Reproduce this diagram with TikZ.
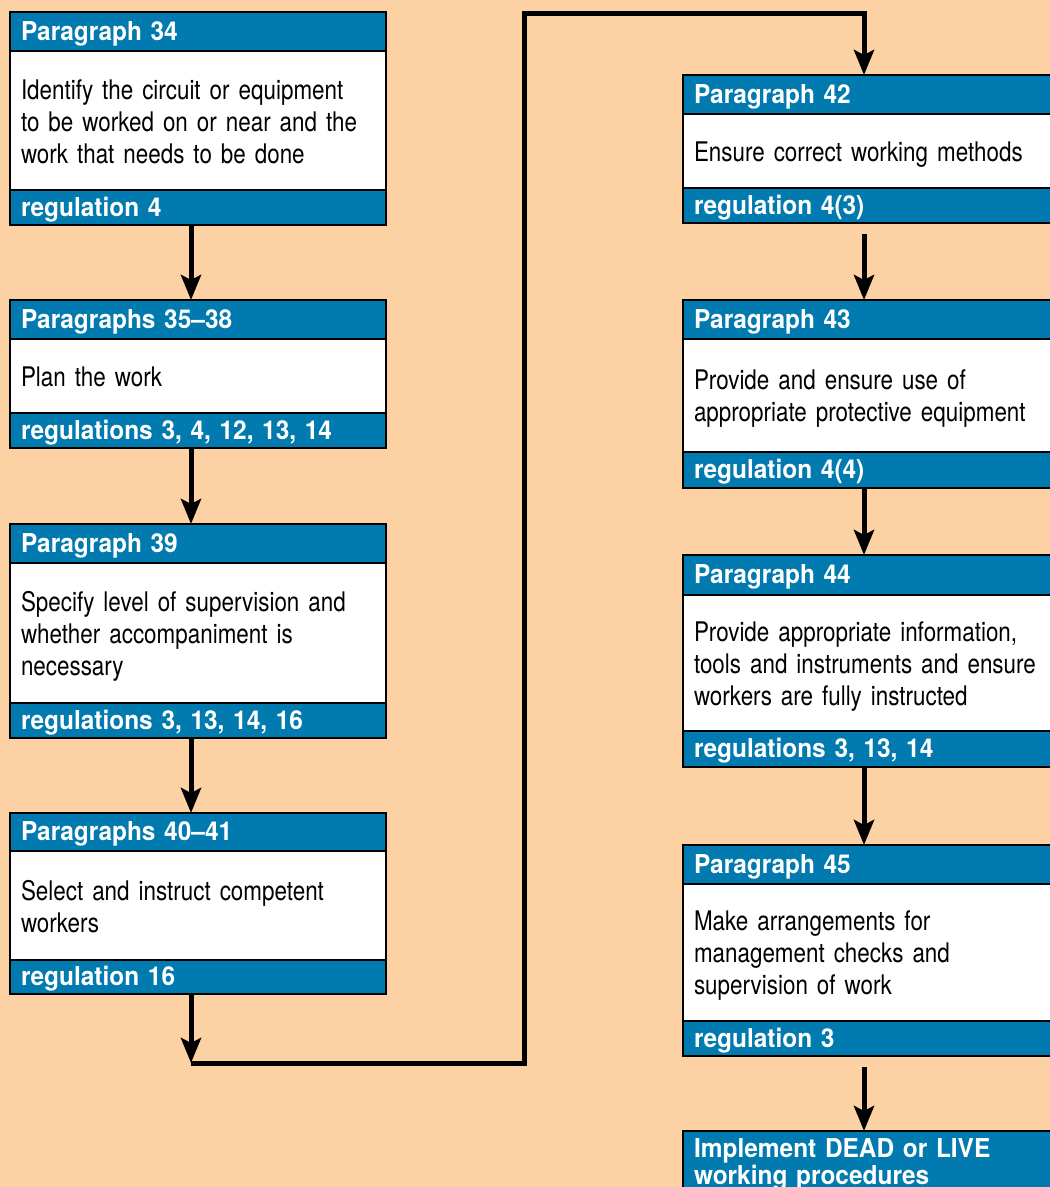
\documentclass[tikz,border=0pt]{standalone}
\usepackage{fontspec}
\setmainfont{TeX Gyre Heros}
\newfontfamily\boxheadfont{TeX Gyre Heros}[FakeStretch=0.94]
\newfontfamily\boxtextfont{TeX Gyre Heros}[FakeStretch=0.83]
\usetikzlibrary{arrows.meta,positioning}

\definecolor{peach}{RGB}{252,209,163}
\definecolor{hseblue}{RGB}{0,122,175}

\tikzset{every picture/.style={line width=0.75pt}}
\tikzset{
  band/.style={draw=black, line width=2.4pt, fill=hseblue, text=white, outer sep=0pt,
    font=\boxheadfont\bfseries\fontsize{26}{24}\selectfont, align=left, text width=354pt,
    inner xsep=11pt, inner ysep=0pt, minimum height=#1, text height=20pt, text depth=3pt},
  band/.default=39pt,
  panel/.style={draw=black, line width=2.4pt, fill=white, text=black, outer sep=0pt,
    font=\boxtextfont\fontsize{27}{32}\selectfont, align=left, text width=354pt,
    inner xsep=11pt, inner ysep=0pt, minimum height=#1,
    execute at begin node={\rule{0pt}{26pt}}, execute at end node={\rule[-5pt]{0pt}{5pt}}},
  lastband/.style={draw=black, line width=2.4pt, fill=hseblue, text=white, outer sep=0pt,
    font=\boxheadfont\bfseries\fontsize{26}{24}\selectfont, align=left, text width=354pt,
    inner xsep=11pt, inner ysep=8pt},
  flow/.style={line width=5pt, -{Stealth[length=25pt,width=20pt,inset=5pt]}},
}

\begin{document}
\begin{tikzpicture}[x=1pt,y=1pt,yscale=-1,xscale=1]
%background, set diagram size 1050 x 1187
\path [use as bounding box, fill=peach] (0,0) rectangle (1050,1187) ;
\clip (0,0) rectangle (1050,1187) ;

% Box: Paragraph 34
\node [band, anchor=north west] (p34h) at (10,12) {Paragraph 34};
\node [panel=139pt, below=0pt of p34h] (p34b) {Identify the circuit or equipment\\to be worked on or near and the\\work that needs to be done};
\node [band=35pt, below=0pt of p34b] (p34f) {regulation 4};

% Box: Paragraphs 35-38
\node [band, anchor=north west] (p35h) at (10,300) {Paragraphs 35–38};
\node [panel=74pt, below=0pt of p35h] (p35b) {Plan the work};
\node [band=35pt, below=0pt of p35b] (p35f) {regulations 3, 4, 12, 13, 14};

% Box: Paragraph 39
\node [band, anchor=north west] (p39h) at (10,524) {Paragraph 39};
\node [panel=140pt, below=0pt of p39h] (p39b) {Specify level of supervision and\\whether accompaniment is\\necessary};
\node [band=35pt, below=0pt of p39b] (p39f) {regulations 3, 13, 14, 16};

% Box: Paragraphs 40-41
\node [band=38pt, anchor=north west] (p40h) at (10,813) {Paragraphs 40–41};
\node [panel=109pt, below=0pt of p40h] (p40b) {Select and instruct competent\\workers};
\node [band=34pt, below=0pt of p40b] (p40f) {regulation 16};

% Box: Paragraph 42
\node [band, anchor=north west] (p42h) at (683,75) {Paragraph 42};
\node [panel=74pt, below=0pt of p42h] (p42b) {Ensure correct working methods};
\node [band=35pt, below=0pt of p42b] (p42f) {regulation 4(3)};

% Box: Paragraph 43
\node [band, anchor=north west] (p43h) at (683,300) {Paragraph 43};
\node [panel=113pt, below=0pt of p43h] (p43b) {Provide and ensure use of\\appropriate protective equipment};
\node [band=36pt, below=0pt of p43b] (p43f) {regulation 4(4)};

% Box: Paragraph 44
\node [band=40pt, anchor=north west] (p44h) at (683,555) {Paragraph 44};
\node [panel=136pt, below=0pt of p44h] (p44b) {Provide appropriate information,\\tools and instruments and ensure\\workers are fully instructed};
\node [band=36pt, below=0pt of p44b] (p44f) {regulations 3, 13, 14};

% Box: Paragraph 45
\node [band, anchor=north west] (p45h) at (683,845) {Paragraph 45};
\node [panel=137pt, below=0pt of p45h] (p45b) {Make arrangements for\\management checks and\\supervision of work};
\node [band=35pt, below=0pt of p45b] (p45f) {regulation 3};

% Box: procedures
\node [lastband, anchor=north west] (live) at (683,1131) {Implement DEAD or LIVE\\working procedures};

% Arrows, left column
\draw [flow] ([xshift=-7pt]p34f.south) -- ([xshift=-7pt]p35h.north) ;
\draw [flow] ([xshift=-7pt]p35f.south) -- ([xshift=-7pt]p39h.north) ;
\draw [flow] ([xshift=-7pt]p39f.south) -- ([xshift=-7pt]p40h.north) ;

% Arrow round to the right column
\coordinate (bendA) at (191,1063) ;
\coordinate (bendB) at (524,1063) ;
\coordinate (bendC) at (524,13) ;
\draw [flow] ([xshift=-7pt]p40f.south) -- (bendA) ;
\draw [flow] (bendA) -- (bendB) -- (bendC) -| ([xshift=-7pt]p42h.north) ;

% Arrows, right column
\draw [flow, shorten <=11pt] ([xshift=-7pt]p42f.south) -- ([xshift=-7pt]p43h.north) ;
\draw [flow] ([xshift=-7pt]p43f.south) -- ([xshift=-7pt]p44h.north) ;
\draw [flow] ([xshift=-7pt]p44f.south) -- ([xshift=-7pt]p45h.north) ;
\draw [flow, shorten <=11pt] ([xshift=-7pt]p45f.south) -- ([xshift=-7pt]live.north) ;

\end{tikzpicture}
\end{document}
